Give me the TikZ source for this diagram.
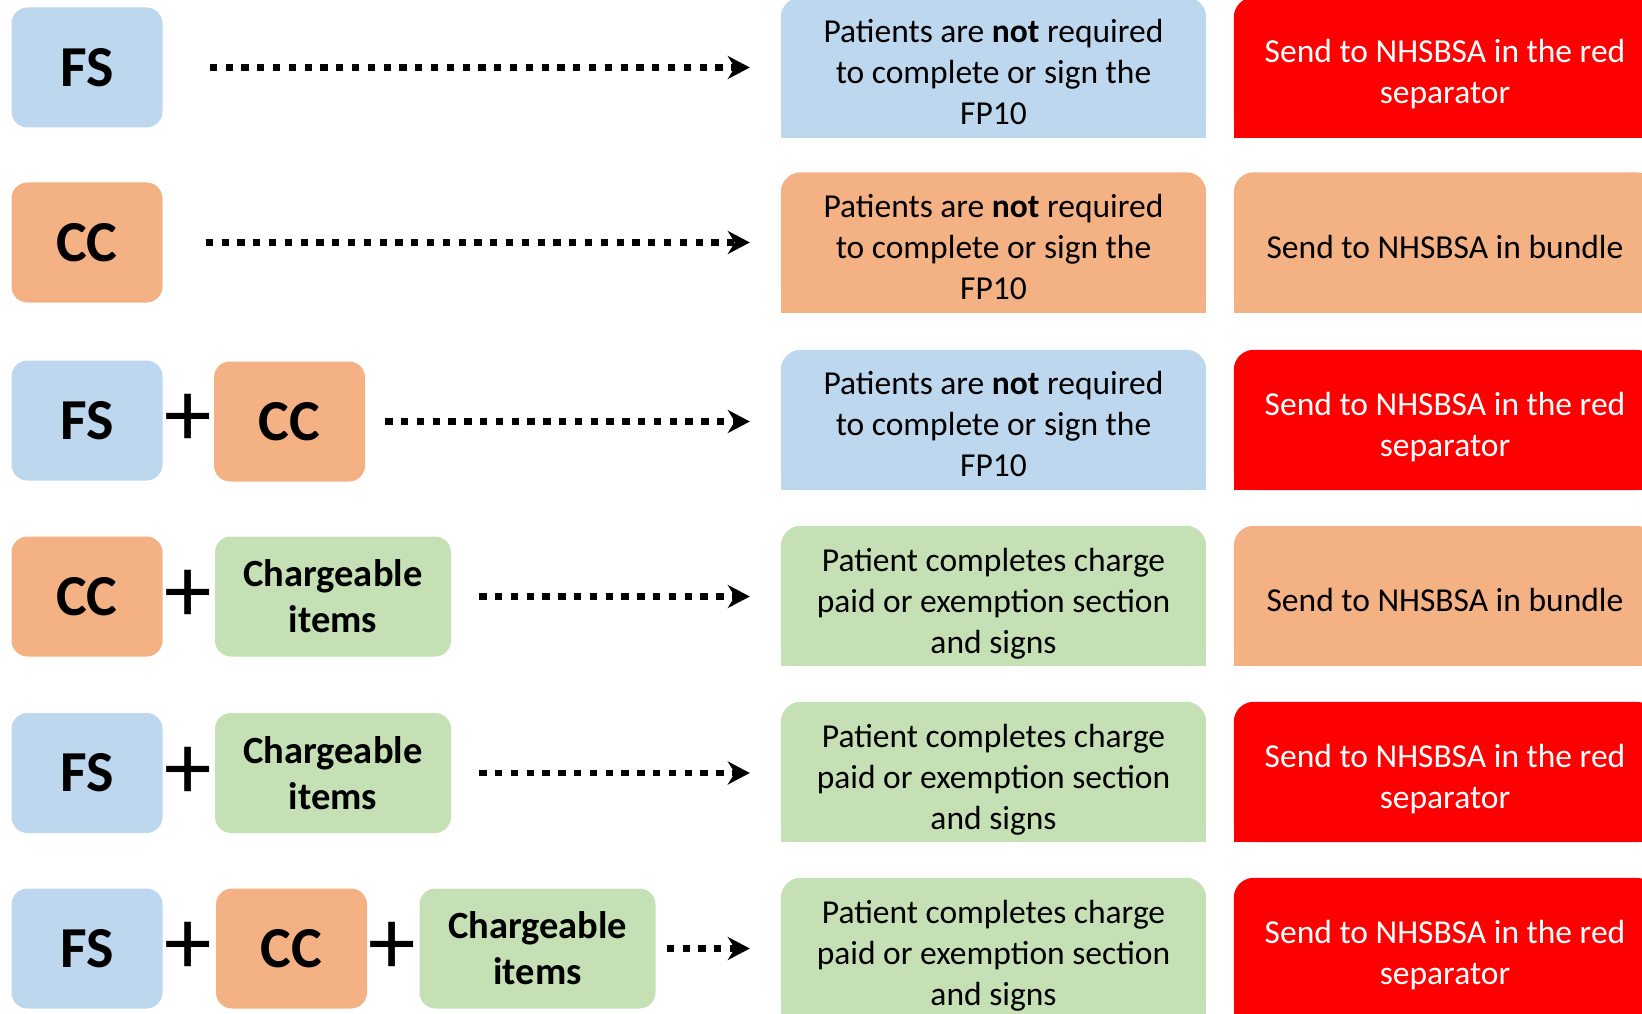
\documentclass[tikz,border=0pt]{standalone}
\usepackage{fontspec}
\setmainfont{Carlito}
\usetikzlibrary{arrows.meta,backgrounds}
\definecolor{cblue}{HTML}{BDD7EE}
\definecolor{corange}{HTML}{F4B183}
\definecolor{cgreen}{HTML}{C5E0B4}
\definecolor{cred}{HTML}{FF0000}
% fill a box with rounded top corners behind node #1, box shifted up by #3
\newcommand\toproundfill[3]{%
  \begin{scope}[on background layer]
    \fill[#2,rounded corners=20] ([yshift=#3]#1.south west) rectangle ([yshift=#3]#1.north east);
    \fill[#2] ([yshift=#3]#1.south west) rectangle ([yshift=#3]#1.east);
  \end{scope}}
\begin{document}
\begin{tikzpicture}[x=1pt,y=-1pt,
  small/.style={rounded corners=16, minimum width=151, minimum height=120, inner sep=0,
    font=\fontsize{58}{58}\selectfont\bfseries},
  fsbox/.style={small, fill=cblue},
  ccbox/.style={small, fill=corange},
  chbox/.style={small, minimum width=236, fill=cgreen, align=center,
    font=\fontsize{38.5}{46}\selectfont\bfseries},
  midbox/.style={minimum width=425, minimum height=140, inner sep=0, align=center,
    font=\fontsize{33.5}{41}\selectfont},
  rightbox/.style={minimum width=422, minimum height=140, inner sep=0, align=center,
    font=\fontsize{33.5}{41}\selectfont},
  plus/.style={inner sep=0, font=\fontsize{95}{95}\selectfont},
  dotarrow/.style={line width=6.5, dash pattern=on 7.3 off 8.5,
    -{Stealth[length=22,width=23,inset=7]}}
]
\useasboundingbox (0,0) rectangle (1642,1014);

% Row 1
\node[fsbox] (fs1) at (87,67.5) {\raisebox{-2pt}{FS}};
\node[midbox] (m1) at (993.5,71.5) {Patients are \textbf{not} required\\to complete or sign the\\FP10};
\toproundfill{m1}{cblue}{4pt}
\node[rightbox, text=white] (r1) at (1445,74.5) {Send to NHSBSA in the red\\separator};
\toproundfill{r1}{cred}{7pt}
\draw[dotarrow, shorten <=47, shorten >=31] (fs1.east) -- (fs1.east -| m1.west);

% Row 2
\node[ccbox] (cc2) at (87,242.5) {\raisebox{-2pt}{CC}};
\node[midbox] (m2) at (993.5,246.5) {Patients are \textbf{not} required\\to complete or sign the\\FP10};
\toproundfill{m2}{corange}{4pt}
\node[rightbox] (r2) at (1445,246.5) {Send to NHSBSA in bundle};
\toproundfill{r2}{corange}{4pt}
\draw[dotarrow, shorten <=43, shorten >=31] (cc2.east) -- (cc2.east -| m2.west);

% Row 3
\node[fsbox] (fs3) at (87,420.5) {\raisebox{-2pt}{FS}};
\node[plus] (p3) at (188.5,420.5) {+};
\node[ccbox] (cc3) at (289.5,421.5) {\raisebox{-2pt}{CC}};
\node[midbox] (m3) at (993.5,424) {Patients are \textbf{not} required\\to complete or sign the\\FP10};
\toproundfill{m3}{cblue}{4pt}
\node[rightbox, text=white] (r3) at (1445,427) {Send to NHSBSA in the red\\separator};
\toproundfill{r3}{cred}{7pt}
\draw[dotarrow, shorten <=20, shorten >=31] (cc3.east) -- (cc3.east -| m3.west);

% Row 4
\node[ccbox] (cc4) at (87,596.5) {\raisebox{-2pt}{CC}};
\node[plus] (p4) at (188.5,596.5) {+};
\node[chbox] (ch4) at (333,596.5) {Chargeable\\items};
\node[midbox] (m4) at (993.5,604) {Patient completes charge\\paid or exemption section\\and signs};
\toproundfill{m4}{cgreen}{8pt}
\node[rightbox] (r4) at (1445,600) {Send to NHSBSA in bundle};
\toproundfill{r4}{corange}{4pt}
\draw[dotarrow, shorten <=28, shorten >=31] (ch4.east) -- (ch4.east -| m4.west);

% Row 5
\node[fsbox] (fs5) at (87,773) {\raisebox{-2pt}{FS}};
\node[plus] (p5) at (188.5,773) {+};
\node[chbox] (ch5) at (333,773) {Chargeable\\items};
\node[midbox] (m5) at (993.5,780) {Patient completes charge\\paid or exemption section\\and signs};
\toproundfill{m5}{cgreen}{8pt}
\node[rightbox, text=white] (r5) at (1445,779) {Send to NHSBSA in the red\\separator};
\toproundfill{r5}{cred}{7pt}
\draw[dotarrow, shorten <=28, shorten >=31] (ch5.east) -- (ch5.east -| m5.west);

% Row 6
\node[fsbox] (fs6) at (87,948.5) {\raisebox{-2pt}{FS}};
\node[plus] (p6a) at (188.5,948.5) {+};
\node[ccbox] (cc6) at (291.5,948.5) {\raisebox{-2pt}{CC}};
\node[plus] (p6b) at (392,948.5) {+};
\node[chbox] (ch6) at (537.5,948.5) {Chargeable\\items};
\node[midbox] (m6) at (993.5,956) {Patient completes charge\\paid or exemption section\\and signs};
\toproundfill{m6}{cgreen}{8pt}
\node[rightbox, text=white] (r6) at (1445,955) {Send to NHSBSA in the red\\separator};
\toproundfill{r6}{cred}{7pt}
\draw[dotarrow, shorten <=11, shorten >=31] (ch6.east) -- (ch6.east -| m6.west);
\end{tikzpicture}
\end{document}
